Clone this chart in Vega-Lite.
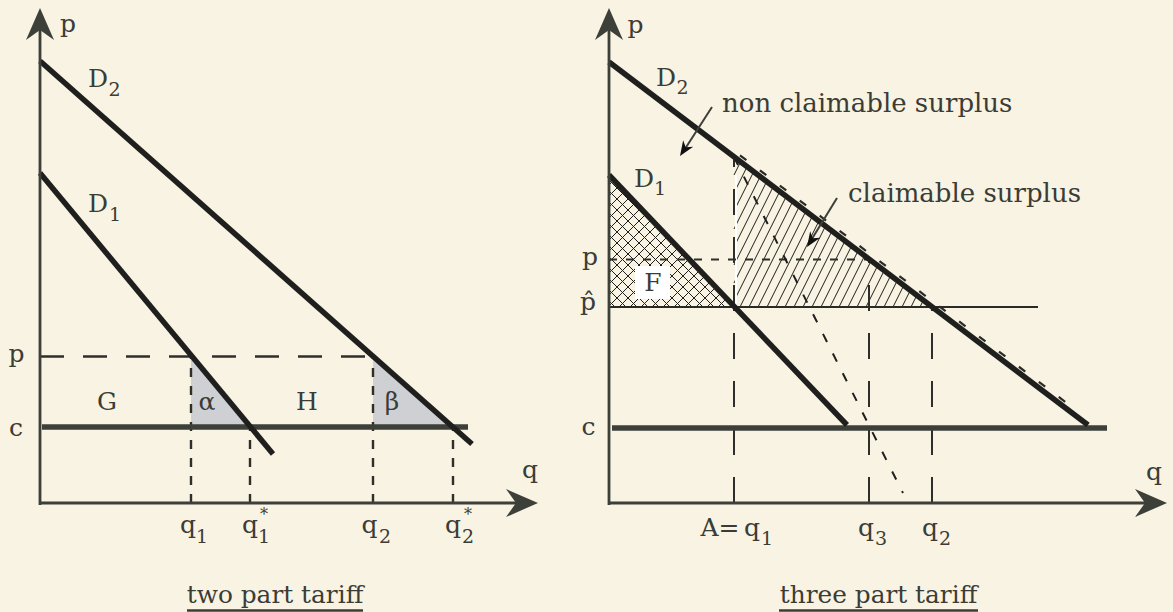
{
  "$schema": "https://vega.github.io/schema/vega-lite/v6.json",
  "background": "#f8f3e2",
  "padding": 0,
  "spacing": 0,
  "bounds": "flush",
  "config": {"view": {"stroke": null}, "text": {"font": "DejaVu Serif", "color": "#3b3c36"}},
  "datasets": {
    "L_tri": [
      {"tri": "alpha", "q": 15.1, "p": 14.65, "p0": 7.6},
      {"tri": "alpha", "q": 21.06, "p": 7.6, "p0": 7.6},
      {"tri": "beta", "q": 33.3, "p": 14.65, "p0": 7.6},
      {"tri": "beta", "q": 41.28, "p": 7.6, "p0": 7.6}
    ],
    "L_pdash": [{"q": 0, "p": 14.65, "q2": 33.3, "p2": 14.65}],
    "L_vdash": [
      {"q": 15.1, "p": 0, "q2": 15.1, "p2": 14.65},
      {"q": 21.0, "p": 0, "q2": 21.0, "p2": 7.6},
      {"q": 33.3, "p": 0, "q2": 33.3, "p2": 14.65},
      {"q": 41.3, "p": 0, "q2": 41.3, "p2": 7.6}
    ],
    "L_c": [{"q": 0.2, "p": 7.6, "q2": 42.8, "p2": 7.6}],
    "L_demand": [
      {"q": 0, "p": 44.2, "q2": 43.2, "p2": 5.9},
      {"q": 0, "p": 33.0, "q2": 23.3, "p2": 4.9}
    ],
    "L_axes": [
      {"q": 0, "p": -0.2, "q2": 0, "p2": 47.5},
      {"q": 0, "p": 0, "q2": 48, "p2": 0}
    ],
    "L_arrowR": [{"q": 49.8, "p": 0}],
    "L_arrowU": [{"q": 0, "p": 49.5}],
    "L_main": [
      {"q": 2.8, "p": 47.1, "text": "p"},
      {"q": 49.0, "p": 2.5, "text": "q"},
      {"q": -2.35, "p": 14.1, "text": "p"},
      {"q": -2.4, "p": 6.7, "text": "c"},
      {"q": 6.7, "p": 9.3, "text": "G"},
      {"q": 16.7, "p": 9.3, "text": "α"},
      {"q": 26.7, "p": 9.3, "text": "H"},
      {"q": 35.2, "p": 9.3, "text": "β"},
      {"q": 5.8, "p": 41.6, "text": "D"},
      {"q": 5.8, "p": 29.1, "text": "D"},
      {"q": 14.8, "p": -3.0, "text": "q"},
      {"q": 21.0, "p": -3.0, "text": "q"},
      {"q": 32.95, "p": -3.0, "text": "q"},
      {"q": 41.3, "p": -3.0, "text": "q"}
    ],
    "L_sub": [
      {"q": 7.45, "p": 40.7, "text": "2"},
      {"q": 7.5, "p": 28.2, "text": "1"},
      {"q": 16.2, "p": -4.0, "text": "1"},
      {"q": 22.4, "p": -4.0, "text": "1"},
      {"q": 34.5, "p": -4.0, "text": "2"},
      {"q": 42.8, "p": -4.0, "text": "2"}
    ],
    "L_star": [
      {"q": 22.4, "p": -1.7, "text": "*"},
      {"q": 42.8, "p": -1.7, "text": "*"}
    ],
    "L_title": [{"q": 23.5, "p": -10.0, "text": "two part tariff"}],
    "L_underline": [{"q": 14.7, "p": -10.75, "q2": 32.3, "p2": -10.75}],

    "R_xhatch": [
      {"q": 12.0, "p": 19.6, "q2": 12.29, "p2": 19.89},
      {"q": 10.9, "p": 19.6, "q2": 11.75, "p2": 20.45},
      {"q": 9.8, "p": 19.6, "q2": 11.22, "p2": 21.02},
      {"q": 8.7, "p": 19.6, "q2": 10.68, "p2": 21.58},
      {"q": 7.6, "p": 19.6, "q2": 10.14, "p2": 22.14},
      {"q": 6.5, "p": 19.6, "q2": 9.61, "p2": 22.71},
      {"q": 5.4, "p": 19.6, "q2": 9.07, "p2": 23.27},
      {"q": 4.3, "p": 19.6, "q2": 8.54, "p2": 23.84},
      {"q": 3.2, "p": 19.6, "q2": 8.0, "p2": 24.4},
      {"q": 2.1, "p": 19.6, "q2": 7.46, "p2": 24.96},
      {"q": 1.0, "p": 19.6, "q2": 6.93, "p2": 25.53},
      {"q": 0, "p": 19.7, "q2": 6.39, "p2": 26.09},
      {"q": 0, "p": 20.8, "q2": 5.85, "p2": 26.65},
      {"q": 0, "p": 21.9, "q2": 5.32, "p2": 27.22},
      {"q": 0, "p": 23.0, "q2": 4.78, "p2": 27.78},
      {"q": 0, "p": 24.1, "q2": 4.24, "p2": 28.34},
      {"q": 0, "p": 25.2, "q2": 3.71, "p2": 28.91},
      {"q": 0, "p": 26.3, "q2": 3.17, "p2": 29.47},
      {"q": 0, "p": 27.4, "q2": 2.63, "p2": 30.03},
      {"q": 0, "p": 28.5, "q2": 2.1, "p2": 30.6},
      {"q": 0, "p": 29.6, "q2": 1.56, "p2": 31.16},
      {"q": 0, "p": 30.7, "q2": 1.02, "p2": 31.72},
      {"q": 0, "p": 31.8, "q2": 0.49, "p2": 32.29},
      {"q": 0, "p": 20.2, "q2": 0.6, "p2": 19.6},
      {"q": 0, "p": 21.3, "q2": 1.7, "p2": 19.6},
      {"q": 0, "p": 22.4, "q2": 2.8, "p2": 19.6},
      {"q": 0, "p": 23.5, "q2": 3.9, "p2": 19.6},
      {"q": 0, "p": 24.6, "q2": 5.0, "p2": 19.6},
      {"q": 0, "p": 25.7, "q2": 6.1, "p2": 19.6},
      {"q": 0, "p": 26.8, "q2": 7.2, "p2": 19.6},
      {"q": 0, "p": 27.9, "q2": 8.3, "p2": 19.6},
      {"q": 0, "p": 29.0, "q2": 9.4, "p2": 19.6},
      {"q": 0, "p": 30.1, "q2": 10.5, "p2": 19.6},
      {"q": 0, "p": 31.2, "q2": 11.6, "p2": 19.6},
      {"q": 0, "p": 32.3, "q2": 9.92, "p2": 22.38}
    ],
    "R_hatch": [
      {"q": 12.5, "p": 32.8, "q2": 13.16, "p2": 34.12},
      {"q": 12.5, "p": 31.0, "q2": 13.81, "p2": 33.63},
      {"q": 12.5, "p": 29.2, "q2": 14.47, "p2": 33.13},
      {"q": 12.5, "p": 27.4, "q2": 15.12, "p2": 32.64},
      {"q": 12.5, "p": 25.6, "q2": 15.77, "p2": 32.15},
      {"q": 12.5, "p": 23.8, "q2": 16.43, "p2": 31.65},
      {"q": 12.5, "p": 22.0, "q2": 17.08, "p2": 31.16},
      {"q": 12.5, "p": 20.2, "q2": 17.73, "p2": 30.66},
      {"q": 13.1, "p": 19.6, "q2": 18.38, "p2": 30.17},
      {"q": 14.0, "p": 19.6, "q2": 19.04, "p2": 29.67},
      {"q": 14.9, "p": 19.6, "q2": 19.69, "p2": 29.18},
      {"q": 15.8, "p": 19.6, "q2": 20.34, "p2": 28.68},
      {"q": 16.7, "p": 19.6, "q2": 20.99, "p2": 28.19},
      {"q": 17.6, "p": 19.6, "q2": 21.65, "p2": 27.69},
      {"q": 18.5, "p": 19.6, "q2": 22.3, "p2": 27.2},
      {"q": 19.4, "p": 19.6, "q2": 22.95, "p2": 26.7},
      {"q": 20.3, "p": 19.6, "q2": 23.6, "p2": 26.21},
      {"q": 21.2, "p": 19.6, "q2": 24.26, "p2": 25.71},
      {"q": 22.1, "p": 19.6, "q2": 24.91, "p2": 25.22},
      {"q": 23.0, "p": 19.6, "q2": 25.56, "p2": 24.72},
      {"q": 23.9, "p": 19.6, "q2": 26.22, "p2": 24.23},
      {"q": 24.8, "p": 19.6, "q2": 26.87, "p2": 23.74},
      {"q": 25.7, "p": 19.6, "q2": 27.52, "p2": 23.24},
      {"q": 26.6, "p": 19.6, "q2": 28.17, "p2": 22.75},
      {"q": 27.5, "p": 19.6, "q2": 28.83, "p2": 22.25},
      {"q": 28.4, "p": 19.6, "q2": 29.48, "p2": 21.76},
      {"q": 29.3, "p": 19.6, "q2": 30.13, "p2": 21.26},
      {"q": 30.2, "p": 19.6, "q2": 30.78, "p2": 20.77},
      {"q": 31.1, "p": 19.6, "q2": 31.44, "p2": 20.27}
    ],
    "R_box": [{"q": 2.6, "p": 20.4, "q2": 6.1, "p2": 23.7}],
    "R_white": [{"q": 12.7, "p": 19.7, "q2": 12.7, "p2": 32.8}],
    "R_vdash": [
      {"q": 12.5, "p": 0, "q2": 12.5, "p2": 34.6},
      {"q": 26.0, "p": 0, "q2": 26.0, "p2": 24.35},
      {"q": 32.3, "p": 0, "q2": 32.3, "p2": 19.6}
    ],
    "R_pdash": [{"q": 0, "p": 24.35, "q2": 26.0, "p2": 24.35}],
    "R_slant": [{"q": 12.5, "p": 34.6, "q2": 29.4, "p2": 1.0}],
    "R_phat": [{"q": 0, "p": 19.6, "q2": 42.9, "p2": 19.6}],
    "R_c": [{"q": 0.3, "p": 7.5, "q2": 49.8, "p2": 7.5}],
    "R_demand": [
      {"q": 0, "p": 44.1, "q2": 47.9, "p2": 7.8},
      {"q": 0, "p": 32.8, "q2": 23.8, "p2": 7.8}
    ],
    "R_parallel": [{"q": 13.1, "p": 34.77, "q2": 46.3, "p2": 9.6}],
    "R_axes": [
      {"q": 0, "p": -0.2, "q2": 0, "p2": 47.5},
      {"q": 0, "p": 0, "q2": 53.8, "p2": 0}
    ],
    "R_arrowR": [{"q": 55.8, "p": 0}],
    "R_arrowU": [{"q": 0, "p": 49.5}],
    "R_pointer": [
      {"q": 10.3, "p": 39.6, "q2": 7.4, "p2": 35.1},
      {"q": 22.8, "p": 30.5, "q2": 20.1, "p2": 26.1}
    ],
    "R_pointerHead": [
      {"q": 7.1, "p": 34.7},
      {"q": 19.8, "p": 25.6}
    ],
    "R_main": [
      {"q": 2.65, "p": 47.0, "text": "p"},
      {"q": 54.5, "p": 2.3, "text": "q"},
      {"q": -1.9, "p": 23.8, "text": "p"},
      {"q": -2.1, "p": 19.3, "text": "p̂"},
      {"q": -2.05, "p": 6.8, "text": "c"},
      {"q": 4.4, "p": 21.2, "text": "F"},
      {"q": 5.7, "p": 41.7, "text": "D"},
      {"q": 3.5, "p": 31.6, "text": "D"},
      {"q": 11.1, "p": -3.3, "text": "A="},
      {"q": 14.3, "p": -3.3, "text": "q"},
      {"q": 25.7, "p": -3.3, "text": "q"},
      {"q": 32.1, "p": -3.3, "text": "q"}
    ],
    "R_sub": [
      {"q": 7.35, "p": 40.9, "text": "2"},
      {"q": 5.1, "p": 30.8, "text": "1"},
      {"q": 15.8, "p": -4.2, "text": "1"},
      {"q": 27.2, "p": -4.2, "text": "3"},
      {"q": 33.6, "p": -4.2, "text": "2"}
    ],
    "R_note": [
      {"q": 11.3, "p": 39.1, "text": "non claimable surplus"},
      {"q": 23.9, "p": 30.1, "text": "claimable surplus"}
    ],
    "R_title": [{"q": 26.95, "p": -10.0, "text": "three part tariff"}],
    "R_underline": [{"q": 17.0, "p": -10.75, "q2": 36.9, "p2": -10.75}]
  },
  "hconcat": [
    {
      "width": 580,
      "height": 612,
      "encoding": {
        "x": {"field": "q", "type": "quantitative", "scale": {"domain": [-4, 54], "nice": false, "zero": false}, "axis": null},
        "y": {"field": "p", "type": "quantitative", "scale": {"domain": [-10.9, 50.3], "nice": false, "zero": false}, "axis": null}
      },
      "layer": [
        {"data": {"name": "L_tri"}, "mark": {"type": "area", "color": "#cfd0d4", "opacity": 1}, "encoding": {"y2": {"field": "p0"}, "detail": {"field": "tri"}}},
        {"data": {"name": "L_pdash"}, "mark": {"type": "rule", "color": "#2e2f2b", "strokeWidth": 2.6, "strokeDash": [24, 19]}, "encoding": {"x2": {"field": "q2"}, "y2": {"field": "p2"}}},
        {"data": {"name": "L_vdash"}, "mark": {"type": "rule", "color": "#2e2f2b", "strokeWidth": 2.4, "strokeDash": [9, 9]}, "encoding": {"x2": {"field": "q2"}, "y2": {"field": "p2"}}},
        {"data": {"name": "L_c"}, "mark": {"type": "rule", "color": "#3d3f39", "strokeWidth": 5.5}, "encoding": {"x2": {"field": "q2"}, "y2": {"field": "p2"}}},
        {"data": {"name": "L_demand"}, "mark": {"type": "rule", "color": "#1f1f1d", "strokeWidth": 5.5}, "encoding": {"x2": {"field": "q2"}, "y2": {"field": "p2"}}},
        {"data": {"name": "L_axes"}, "mark": {"type": "rule", "color": "#3d3f39", "strokeWidth": 2.8}, "encoding": {"x2": {"field": "q2"}, "y2": {"field": "p2"}}},
        {"data": {"name": "L_arrowR"}, "mark": {"type": "point", "shape": "M0,0L-2,-0.875L-1.375,0L-2,0.875Z", "size": 1024, "filled": true, "opacity": 1, "color": "#3d3f39", "strokeWidth": 0}},
        {"data": {"name": "L_arrowU"}, "mark": {"type": "point", "shape": "M0,0L-2,-0.875L-1.375,0L-2,0.875Z", "size": 1024, "angle": -90, "filled": true, "opacity": 1, "color": "#3d3f39", "strokeWidth": 0}},
        {"data": {"name": "L_main"}, "mark": {"type": "text", "fontSize": 25, "align": "center", "baseline": "alphabetic"}, "encoding": {"text": {"field": "text"}}},
        {"data": {"name": "L_sub"}, "mark": {"type": "text", "fontSize": 19, "align": "center", "baseline": "alphabetic"}, "encoding": {"text": {"field": "text"}}},
        {"data": {"name": "L_star"}, "mark": {"type": "text", "fontSize": 16, "align": "center", "baseline": "alphabetic"}, "encoding": {"text": {"field": "text"}}},
        {"data": {"name": "L_title"}, "mark": {"type": "text", "fontSize": 24.8, "align": "center", "baseline": "alphabetic"}, "encoding": {"text": {"field": "text"}}},
        {"data": {"name": "L_underline"}, "mark": {"type": "rule", "color": "#3b3c36", "strokeWidth": 2.6}, "encoding": {"x2": {"field": "q2"}, "y2": {"field": "p2"}}}
      ]
    },
    {
      "width": 593,
      "height": 612,
      "encoding": {
        "x": {"field": "q", "type": "quantitative", "scale": {"domain": [-2.9, 56.4], "nice": false, "zero": false}, "axis": null},
        "y": {"field": "p", "type": "quantitative", "scale": {"domain": [-10.9, 50.3], "nice": false, "zero": false}, "axis": null}
      },
      "layer": [
        {"data": {"name": "R_xhatch"}, "mark": {"type": "rule", "color": "#1f1f1d", "strokeWidth": 1}, "encoding": {"x2": {"field": "q2"}, "y2": {"field": "p2"}}},
        {"data": {"name": "R_hatch"}, "mark": {"type": "rule", "color": "#1f1f1d", "strokeWidth": 1}, "encoding": {"x2": {"field": "q2"}, "y2": {"field": "p2"}}},
        {"data": {"name": "R_box"}, "mark": {"type": "rect", "color": "#ffffff", "opacity": 1}, "encoding": {"x2": {"field": "q2"}, "y2": {"field": "p2"}}},
        {"data": {"name": "R_white"}, "mark": {"type": "rule", "color": "#ffffff", "strokeWidth": 2}, "encoding": {"x2": {"field": "q2"}, "y2": {"field": "p2"}}},
        {"data": {"name": "R_vdash"}, "mark": {"type": "rule", "color": "#2e2f2b", "strokeWidth": 2, "strokeDash": [26, 22]}, "encoding": {"x2": {"field": "q2"}, "y2": {"field": "p2"}}},
        {"data": {"name": "R_pdash"}, "mark": {"type": "rule", "color": "#2e2f2b", "strokeWidth": 2, "strokeDash": [8, 9]}, "encoding": {"x2": {"field": "q2"}, "y2": {"field": "p2"}}},
        {"data": {"name": "R_slant"}, "mark": {"type": "rule", "color": "#1f1f1d", "strokeWidth": 2, "strokeDash": [9, 13]}, "encoding": {"x2": {"field": "q2"}, "y2": {"field": "p2"}}},
        {"data": {"name": "R_phat"}, "mark": {"type": "rule", "color": "#2a2b27", "strokeWidth": 2}, "encoding": {"x2": {"field": "q2"}, "y2": {"field": "p2"}}},
        {"data": {"name": "R_c"}, "mark": {"type": "rule", "color": "#3d3f39", "strokeWidth": 5.5}, "encoding": {"x2": {"field": "q2"}, "y2": {"field": "p2"}}},
        {"data": {"name": "R_demand"}, "mark": {"type": "rule", "color": "#1f1f1d", "strokeWidth": 5.5}, "encoding": {"x2": {"field": "q2"}, "y2": {"field": "p2"}}},
        {"data": {"name": "R_parallel"}, "mark": {"type": "rule", "color": "#2a2b27", "strokeWidth": 2.2, "strokeDash": [8, 17]}, "encoding": {"x2": {"field": "q2"}, "y2": {"field": "p2"}}},
        {"data": {"name": "R_axes"}, "mark": {"type": "rule", "color": "#3d3f39", "strokeWidth": 2.8}, "encoding": {"x2": {"field": "q2"}, "y2": {"field": "p2"}}},
        {"data": {"name": "R_arrowR"}, "mark": {"type": "point", "shape": "M0,0L-2,-0.875L-1.375,0L-2,0.875Z", "size": 1024, "filled": true, "opacity": 1, "color": "#3d3f39", "strokeWidth": 0}},
        {"data": {"name": "R_arrowU"}, "mark": {"type": "point", "shape": "M0,0L-2,-0.875L-1.375,0L-2,0.875Z", "size": 1024, "angle": -90, "filled": true, "opacity": 1, "color": "#3d3f39", "strokeWidth": 0}},
        {"data": {"name": "R_pointer"}, "mark": {"type": "rule", "color": "#3d3f39", "strokeWidth": 2}, "encoding": {"x2": {"field": "q2"}, "y2": {"field": "p2"}}},
        {"data": {"name": "R_pointerHead"}, "mark": {"type": "point", "shape": "M0,0L-2,-0.8L-1.4,0L-2,0.8Z", "size": 225, "angle": 123, "filled": true, "opacity": 1, "color": "#111111", "strokeWidth": 0}},
        {"data": {"name": "R_main"}, "mark": {"type": "text", "fontSize": 25, "align": "center", "baseline": "alphabetic"}, "encoding": {"text": {"field": "text"}}},
        {"data": {"name": "R_sub"}, "mark": {"type": "text", "fontSize": 19, "align": "center", "baseline": "alphabetic"}, "encoding": {"text": {"field": "text"}}},
        {"data": {"name": "R_note"}, "mark": {"type": "text", "fontSize": 26, "align": "left", "baseline": "alphabetic"}, "encoding": {"text": {"field": "text"}}},
        {"data": {"name": "R_title"}, "mark": {"type": "text", "fontSize": 24.8, "align": "center", "baseline": "alphabetic"}, "encoding": {"text": {"field": "text"}}},
        {"data": {"name": "R_underline"}, "mark": {"type": "rule", "color": "#3b3c36", "strokeWidth": 2.6}, "encoding": {"x2": {"field": "q2"}, "y2": {"field": "p2"}}}
      ]
    }
  ]
}
